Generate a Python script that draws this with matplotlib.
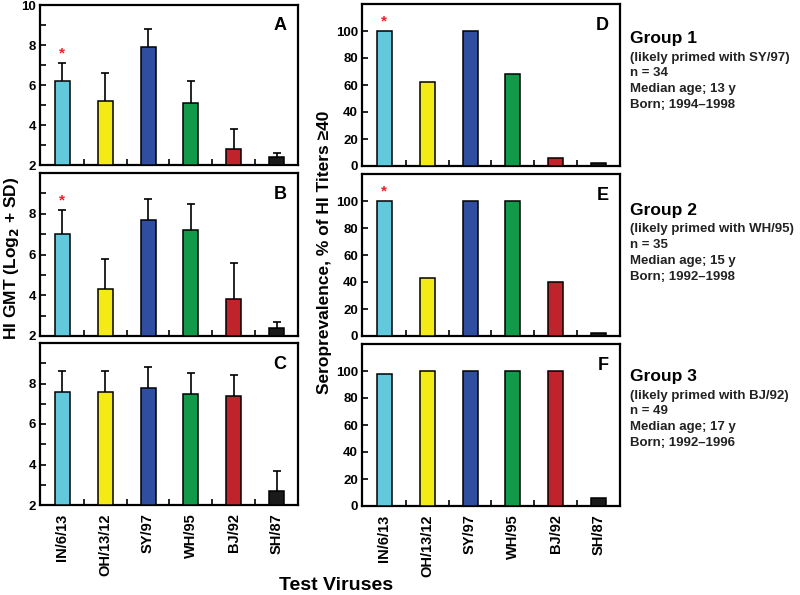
import matplotlib
matplotlib.use("Agg")
import matplotlib.pyplot as plt
import numpy as np

plt.rcParams['font.family'] = ['Liberation Sans', 'DejaVu Sans']
plt.rcParams['font.weight'] = 'bold'

viruses = ["IN/6/13", "OH/13/12", "SY/97", "WH/95", "BJ/92", "SH/87"]
colors = ["#62C9DD", "#F4EB16", "#2F4E9F", "#119A4A", "#C1232B", "#1A1A1A"]

# HI GMT (log2) means and SD
gmt_A = [6.2, 5.2, 7.9, 5.1, 2.8, 2.4]
sd_A = [0.9, 1.4, 0.9, 1.1, 1.0, 0.2]
gmt_B = [7.0, 4.3, 7.7, 7.2, 3.8, 2.4]
sd_B = [1.2, 1.5, 1.0, 1.3, 1.8, 0.3]
gmt_C = [7.6, 7.6, 7.8, 7.5, 7.4, 2.7]
sd_C = [1.0, 1.0, 1.0, 1.0, 1.0, 1.0]

# Seroprevalence (% HI titers >= 40)
sero_D = [100, 62, 100, 68, 6, 2]
sero_E = [100, 43, 100, 100, 40, 2]
sero_F = [98, 100, 100, 100, 100, 6]

stars_left = {"A": 0, "B": 0}
stars_right = {"D": 0, "E": 0}

groups = [
    ("Group 1", ["(likely primed with SY/97)", "n = 34", "Median age; 13 y", "Born; 1994\u20131998"]),
    ("Group 2", ["(likely primed with WH/95)", "n = 35", "Median age; 15 y", "Born; 1992\u20131998"]),
    ("Group 3", ["(likely primed with BJ/92)", "n = 49", "Median age; 17 y", "Born; 1992\u20131996"]),
]

W, H = 800, 595
fig = plt.figure(figsize=(8, 5.95), dpi=100)

def px_axes(x0, x1, ytop, ybot):
    return fig.add_axes([x0 / W, 1 - ybot / H, (x1 - x0) / W, (ybot - ytop) / H])

left_rows = [(5, 165), (173, 336), (343, 505)]
right_rows = [(4, 166), (174, 336), (344, 506)]

x = np.arange(len(viruses))
bw = 0.35

def style(ax, bottom_labels):
    for s in ax.spines.values():
        s.set_linewidth(1.6)
    ax.set_xlim(-0.52, 5.5)
    ax.set_xticks(x)
    ax.set_xticks(np.arange(0.5, 5.0, 1.0), minor=True)
    ax.tick_params(axis='x', which='major', length=0, pad=6)
    ax.tick_params(axis='x', which='minor', direction='in', length=4, width=1.2)
    ax.tick_params(axis='y', which='both', direction='in', width=1.2, labelsize=9.5, pad=3)
    ax.tick_params(axis='y', which='major', length=4)
    ax.tick_params(axis='y', which='minor', length=4)
    if bottom_labels:
        ax.set_xticklabels(viruses, rotation=90, fontsize=10.5, fontweight='bold')
    else:
        ax.set_xticklabels([])
    for lab in ax.get_yticklabels():
        lab.set_fontweight('bold')

left_data = [("A", gmt_A, sd_A), ("B", gmt_B, sd_B), ("C", gmt_C, sd_C)]
for i, (letter, vals, sds) in enumerate(left_data):
    ytop, ybot = left_rows[i]
    ax = px_axes(40, 298, ytop, ybot)
    ax.bar(x, np.array(vals) - 2, bottom=2, width=bw, color=colors,
           edgecolor='black', linewidth=1.1, zorder=3)
    eb = ax.errorbar(x, vals, yerr=[np.zeros(len(vals)), sds], fmt='none',
                     ecolor='black', elinewidth=1.2, capsize=3, capthick=1.2, zorder=2)
    eb[1][0].set_visible(False)
    ax.set_ylim(2, 10)
    if i == 0:
        ax.set_yticks([2, 4, 6, 8, 10])
    else:
        ax.set_yticks([2, 4, 6, 8])
    ax.set_yticks([3, 5, 7, 9], minor=True)
    style(ax, i == 2)
    ax.text(0.955, 0.87, letter, transform=ax.transAxes, ha='right', va='center',
            fontsize=13, fontweight='bold')
    if letter in stars_left:
        k = stars_left[letter]
        ax.text(x[k], vals[k] + sds[k] + 0.12, "*", color='#E8202A', ha='center',
                va='bottom', fontsize=11, fontweight='bold')

right_data = [("D", sero_D), ("E", sero_E), ("F", sero_F)]
for i, (letter, vals) in enumerate(right_data):
    ytop, ybot = right_rows[i]
    ax = px_axes(362, 620, ytop, ybot)
    ax.bar(x, vals, width=bw, color=colors, edgecolor='black', linewidth=1.1, zorder=3)
    ax.set_ylim(0, 120)
    ax.set_yticks([0, 20, 40, 60, 80, 100])
    style(ax, i == 2)
    ax.text(0.955, 0.87, letter, transform=ax.transAxes, ha='right', va='center',
            fontsize=13, fontweight='bold')
    if letter in stars_right:
        k = stars_right[letter]
        ax.text(x[k], vals[k] + 2, "*", color='#E8202A', ha='center',
                va='bottom', fontsize=11, fontweight='bold')

fig.text(12 / W, 1 - 258 / H, "HI GMT (Log$_\\mathbf{2}$ + SD)", rotation=90,
         ha='center', va='center', fontsize=12.5, fontweight='bold')
fig.text(325 / W, 1 - 252 / H, "Seroprevalence, % of HI Titers \u226540", rotation=90,
         ha='center', va='center', fontsize=12.5, fontweight='bold')
fig.text(336 / W, 1 - 586 / H, "Test Viruses", ha='center', va='center',
         fontsize=14, fontweight='bold')

group_base = [43, 215, 381]
for (title, lines), yb in zip(groups, group_base):
    fig.text(630 / W, 1 - yb / H, title, ha='left', va='baseline',
             fontsize=12.5, fontweight='bold')
    for j, ln in enumerate(lines):
        fig.text(630 / W, 1 - (yb + 17.5 + 15.7 * j) / H, ln, ha='left',
                 va='baseline', fontsize=9.5, fontweight='bold', color='#222222')

fig.savefig("out.png", dpi=100)
